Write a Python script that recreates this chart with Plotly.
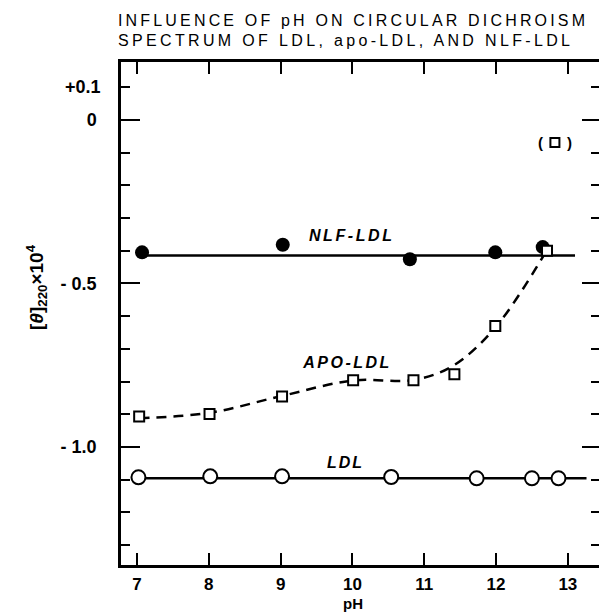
import plotly.graph_objects as go

# ---- data ----
nlf_ph = [7.07, 9.03, 10.80, 11.99, 12.65]
nlf_val = [-0.405, -0.382, -0.426, -0.405, -0.389]
nlf_fit_ph = [7.0, 13.1]
nlf_fit_val = [-0.415, -0.415]

apo_ph = [7.03, 8.01, 9.02, 10.01, 10.85, 11.42, 11.99, 12.71]
apo_val = [-0.907, -0.899, -0.846, -0.796, -0.796, -0.778, -0.630, -0.400]
apo_curve_ph = [7.03, 8.0, 9.0, 10.0, 10.85, 11.4, 12.0, 12.73]
apo_curve_val = [-0.912, -0.896, -0.845, -0.797, -0.795, -0.752, -0.632, -0.390]
apo_outlier_ph = [12.82]
apo_outlier_val = [-0.069]

ldl_ph = [7.02, 8.02, 9.02, 10.54, 11.73, 12.50, 12.87]
ldl_val = [-1.093, -1.090, -1.090, -1.092, -1.096, -1.096, -1.096]
ldl_fit_ph = [7.0, 13.26]
ldl_fit_val = [-1.096, -1.096]

x_ticks = [7, 8, 9, 10, 11, 12, 13]
y_ticks = [0, -0.5, -1.0]
y_ticktext = ["0", "- 0.5", "- 1.0"]

FONT = "Liberation Sans"
Y_RANGE = [-1.361, 0.177]
fig = go.Figure()

# lines
fig.add_trace(go.Scatter(x=nlf_fit_ph, y=nlf_fit_val, mode="lines",
                         line=dict(color="black", width=2.5), showlegend=False))
fig.add_trace(go.Scatter(x=ldl_fit_ph, y=ldl_fit_val, mode="lines",
                         line=dict(color="black", width=2.5), showlegend=False))
fig.add_trace(go.Scatter(x=apo_curve_ph, y=apo_curve_val, mode="lines",
                         line=dict(color="black", width=2.5, dash="10px,7px", shape="spline"),
                         showlegend=False))
# markers
fig.add_trace(go.Scatter(x=nlf_ph, y=nlf_val, mode="markers",
                         marker=dict(symbol="circle", size=14, color="black"),
                         showlegend=False))
fig.add_trace(go.Scatter(x=apo_ph, y=apo_val, mode="markers",
                         marker=dict(symbol="square", size=10, color="white",
                                     line=dict(color="black", width=2)),
                         showlegend=False))
fig.add_trace(go.Scatter(x=apo_outlier_ph, y=apo_outlier_val, mode="markers",
                         marker=dict(symbol="square", size=9, color="white",
                                     line=dict(color="black", width=2)),
                         showlegend=False))
fig.add_trace(go.Scatter(x=ldl_ph, y=ldl_val, mode="markers",
                         marker=dict(symbol="circle", size=14, color="white",
                                     line=dict(color="black", width=2)),
                         showlegend=False))
# empty trace so the right-hand tick axis is drawn
fig.add_trace(go.Scatter(x=[], y=[], yaxis="y2", showlegend=False, hoverinfo="skip"))

lab_font = dict(family=FONT, size=16, color="black", style="italic", weight="bold")
fig.add_annotation(x=10.0, y=-0.353, text="NLF-LDL", showarrow=False, font=lab_font)
fig.add_annotation(x=9.92, y=-0.743, text="APO-LDL", showarrow=False, font=lab_font)
fig.add_annotation(x=9.9, y=-1.048, text="LDL", showarrow=False, font=lab_font)
for dx, t in [(-0.2, "("), (0.2, ")")]:
    fig.add_annotation(x=apo_outlier_ph[0] + dx, y=apo_outlier_val[0], text=t, showarrow=False,
                       font=dict(family=FONT, size=15, color="black", weight="bold"))
fig.add_annotation(x=6.777, y=0.1, xref="x", yref="y", text="+0.1", showarrow=False,
                   xanchor="right", xshift=-18,
                   font=dict(family=FONT, size=18, color="black", weight="bold"))

title_font = dict(family=FONT, size=16, color="black")
fig.add_annotation(text="INFLUENCE OF pH ON CIRCULAR DICHROISM", xref="paper", yref="paper",
                   x=(116 - 121) / 478, y=1 + (62 - 20) / 503, xanchor="left", yanchor="middle",
                   align="left", showarrow=False, font=title_font)
fig.add_annotation(text="SPECTRUM OF LDL, apo-LDL, AND NLF-LDL", xref="paper", yref="paper",
                   x=(116 - 121) / 478, y=1 + (62 - 40) / 503, xanchor="left", yanchor="middle",
                   align="left", showarrow=False, font=title_font)
fig.add_annotation(text="[<i>θ</i>]<sub>220</sub>×10<sup>4</sup>", xref="paper", yref="paper",
                   x=(36 - 121) / 478, y=(565 - 287) / 503, textangle=-90,
                   xanchor="center", yanchor="middle", showarrow=False,
                   font=dict(family=FONT, size=19, color="black", weight="bold"))
fig.add_annotation(text="pH", xref="paper", yref="paper",
                   x=(353 - 121) / 478, y=-(603 - 565) / 503, xanchor="center", yanchor="middle",
                   showarrow=False, font=dict(family=FONT, size=15, color="black", weight="bold"))

fig.update_xaxes(range=[6.777, 13.434], tickvals=x_ticks, ticks="inside", ticklen=12,
                 tickwidth=2, tickcolor="black", showline=True, linewidth=2.5, linecolor="black",
                 mirror="ticks", showgrid=False, zeroline=False, ticklabelstandoff=2,
                 tickfont=dict(family=FONT, size=17, color="black", weight="bold"))
fig.update_layout(
    yaxis=dict(range=Y_RANGE, tickvals=y_ticks, ticktext=y_ticktext, ticks="inside",
               ticklen=19, tickwidth=2, tickcolor="black", showline=True, linewidth=2.5,
               linecolor="black", mirror=False, showgrid=False, zeroline=False,
               ticklabelstandoff=18,
               minor=dict(dtick=0.1, tick0=0, ticks="inside", ticklen=9, tickwidth=2,
                          tickcolor="black", showgrid=False),
               tickfont=dict(family=FONT, size=18, color="black", weight="bold")),
    yaxis2=dict(range=Y_RANGE, overlaying="y", side="right", anchor="x",
                tickvals=y_ticks, ticks="inside", ticklen=17, tickwidth=2, tickcolor="black",
                showticklabels=False, showline=False, showgrid=False, zeroline=False,
                minor=dict(dtick=0.1, tick0=0, ticks="inside", ticklen=8, tickwidth=2,
                           tickcolor="black", showgrid=False)),
)

fig.update_layout(width=599, height=616, margin=dict(l=121, r=0, t=62, b=51),
                  plot_bgcolor="white", paper_bgcolor="white", showlegend=False)

post = """
document.body.style.margin = '0';
var gd = document.getElementById('{plot_id}');
var targets = {
  'INFLUENCE OF pH ON CIRCULAR DICHROISM': 467,
  'SPECTRUM OF LDL, apo-LDL, AND NLF-LDL': 452,
  'NLF-LDL': 83, 'APO-LDL': 86, 'LDL': 35
};
gd.querySelectorAll('text').forEach(function (t) {
  var s = t.textContent;
  if (targets[s] !== undefined) {
    t.style.letterSpacing = '0px';
    var w = t.getComputedTextLength();
    var ls = (targets[s] - w) / (s.length - 1);
    if (ls > 0) { t.style.letterSpacing = ls + 'px'; }
  }
});
"""
fig.write_html("out.html", post_script=post, config={"displayModeBar": False})
